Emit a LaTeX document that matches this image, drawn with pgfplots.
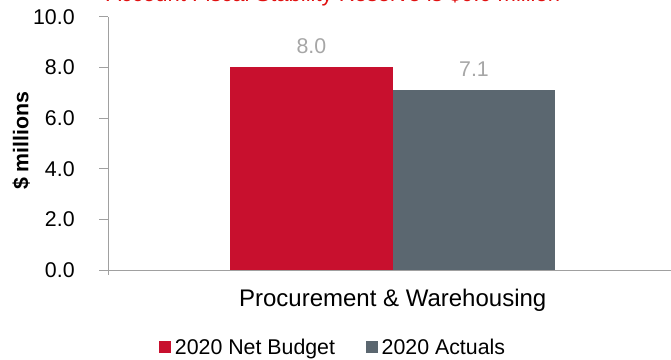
\documentclass[border=0pt]{standalone}
\usepackage{pgfplots}
\pgfplotsset{compat=1.18}
\usepackage{fontspec}
\setmainfont{Liberation Sans}
\definecolor{budred}{HTML}{C8102E}
\definecolor{actgray}{HTML}{5B6770}
\definecolor{axgray}{HTML}{A0A0A0}
\definecolor{lblgray}{HTML}{A6A6A6}
\definecolor{titlered}{HTML}{E01010}
\begin{document}
\begin{tikzpicture}
\begin{axis}[
    at={(0,0)}, anchor=south west,
    scale only axis,
    width=422pt, height=190pt,
    ybar, bar width=122pt, ybar=0pt,
    xmin=-1.1, xmax=1.074,
    ymin=0, ymax=10,
    xtick={0}, xticklabels={Procurement \& Warehousing},
    ytick={0,2,...,10},
    yticklabel style={xshift=-15pt, /pgf/number format/.cd,fixed,fixed zerofill,precision=1},
    /pgf/number format/assume math mode=true,
    tick label style={font=\fontsize{16}{18}\selectfont},
    xticklabel style={font=\fontsize{18}{21}\selectfont, yshift=-4pt},
    axis x line*=bottom, axis y line*=left,
    axis line style={axgray},
    x axis line style={-}, y axis line style={-},
    y tick style={axgray, line width=0.6pt},
    major tick length=6.5pt,
    xtick style={draw=none},
    tick align=outside,
    nodes near coords,
    nodes near coords style={font=\fontsize{16}{18}\selectfont, color=lblgray, yshift=7pt,
        /pgf/number format/.cd,fixed,fixed zerofill,precision=1},
    legend style={at={(169pt,-58pt)}, anchor=center, draw=none, legend columns=2,
        font=\fontsize{16}{18}\selectfont, inner sep=0pt,
        /tikz/every odd column/.append style={column sep=1pt},
        /tikz/every even column/.append style={column sep=21pt}},
    legend image code/.code={\fill[#1] (0pt,-4.5pt) rectangle (9pt,4.5pt);},
    enlargelimits=false,
    clip=false,
]
\addplot[fill=budred, draw=none] coordinates {(0,8.0)};
\addplot[fill=actgray, draw=none] coordinates {(0,7.1)};
\legend{2020 Net Budget, 2020 Actuals}
\end{axis}
\draw[axgray, line width=0.6pt] (0,0) -- (0,-4pt);
\node[rotate=90, font=\fontsize{16}{18}\selectfont\bfseries] at (-65pt,97pt) {\$ millions};
\node[anchor=base, text=titlered, font=\fontsize{16.5}{18}\selectfont] at (169pt,201.5pt) {Account Fiscal Stability Reserve is \$0.0 million};
\pgfresetboundingbox
\useasboundingbox (-81pt,-67.5pt) rectangle (422.25pt,202.5pt);
\end{tikzpicture}
\end{document}
